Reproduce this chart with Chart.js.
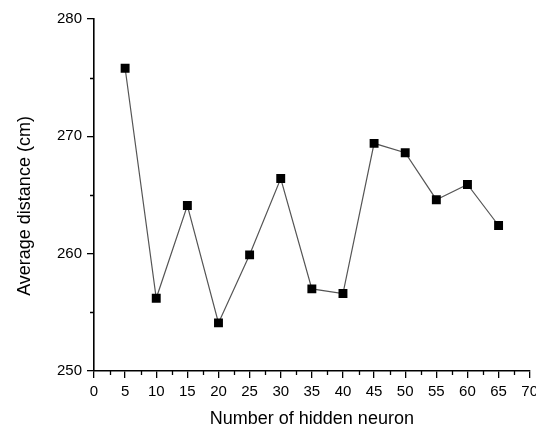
<!DOCTYPE html>
<html>
<head>
<meta charset="utf-8">
<script src="https://cdn.jsdelivr.net/npm/chart.js@4.4.1/dist/chart.umd.min.js"></script>
<style>
  html, body { margin: 0; padding: 0; background: #fff; overflow: hidden; }
  #wrap { width: 536px; height: 427px; position: relative; }
</style>
</head>
<body>
<div id="wrap"><canvas id="grafico"></canvas></div>
<script>
// valores
const neuronios = [5, 10, 15, 20, 25, 30, 35, 40, 45, 50, 55, 60, 65];
const distancia = [275.8, 256.2, 264.1, 254.1, 259.9, 266.4, 257.0, 256.6, 269.4, 268.6, 264.6, 265.9, 262.4];
const xMinorTicks = [2.5, 7.5, 12.5, 17.5, 22.5, 27.5, 32.5, 37.5, 42.5, 47.5, 52.5, 57.5, 62.5, 67.5];
const yMinorTicks = [255, 265, 275];
const tituloX = "Number of hidden neuron";
const tituloY = "Average distance (cm)";

const fonte = "'Liberation Sans', Arial, sans-serif";

// tracinhos menores entre os ticks principais + titulo do eixo y
const extras = {
  id: "extras",
  afterDraw(chart) {
    const ctx = chart.ctx;
    const xs = chart.scales.x;
    const ys = chart.scales.y;
    const area = chart.chartArea;
    ctx.save();
    ctx.strokeStyle = "#000";
    ctx.lineWidth = 1.3;
    ctx.beginPath();
    xMinorTicks.forEach(v => {
      const px = Math.round(xs.getPixelForValue(v)) + 0.5;
      ctx.moveTo(px, area.bottom);
      ctx.lineTo(px, area.bottom + 4);
    });
    yMinorTicks.forEach(v => {
      const py = Math.round(ys.getPixelForValue(v)) + 0.5;
      ctx.moveTo(area.left, py);
      ctx.lineTo(area.left - 4, py);
    });
    ctx.stroke();

    // titulo do eixo y (no original fica um pouco abaixo do centro)
    ctx.translate(25.5, (area.top + area.bottom) / 2 + 11);
    ctx.rotate(-Math.PI / 2);
    ctx.fillStyle = "#000";
    ctx.font = "18px " + fonte;
    ctx.textAlign = "center";
    ctx.textBaseline = "middle";
    ctx.fillText(tituloY, 0, 0);
    ctx.restore();
  }
};

const grafico = new Chart(document.getElementById("grafico"), {
  type: "line",
  data: {
    datasets: [
      {
        data: neuronios.map((n, i) => ({ x: n, y: distancia[i] })),
        borderColor: "#555",
        borderWidth: 1.2,
        tension: 0,
        pointStyle: "rect",
        pointRadius: 6.3,
        pointHoverRadius: 6.3,
        pointBackgroundColor: "#000",
        pointBorderColor: "#000",
        pointBorderWidth: 0,
      },
    ],
  },
  options: {
    responsive: true,
    maintainAspectRatio: false,
    animation: false,
    layout: { padding: { top: 19, right: 5, left: 0, bottom: 0 } },
    plugins: {
      legend: { display: false },
      tooltip: { enabled: false },
    },
    scales: {
      x: {
        type: "linear",
        min: 0,
        max: 70,
        ticks: { stepSize: 5, color: "#000", padding: 5, maxRotation: 0, font: { family: fonte, size: 15 } },
        grid: { drawOnChartArea: false, color: "#000", tickLength: 7, lineWidth: 1.3 },
        border: { color: "#000", width: 1.6 },
        title: { display: true, text: tituloX, color: "#000", font: { family: fonte, size: 18 }, padding: { top: 0, bottom: -2.5 } },
        afterFit(scale) {
          scale.height = 56;
          scale.paddingLeft = 0;
          scale.paddingRight = 0;
        },
      },
      y: {
        min: 250,
        max: 280,
        ticks: { stepSize: 10, color: "#000", padding: 5, font: { family: fonte, size: 15 } },
        grid: { drawOnChartArea: false, color: "#000", tickLength: 7, lineWidth: 1.3 },
        border: { color: "#000", width: 1.6 },
        afterFit(scale) {
          scale.width = 94;
          scale.paddingTop = 0;
          scale.paddingBottom = 0;
        },
      },
    },
  },
  plugins: [extras],
});
</script>
</body>
</html>
